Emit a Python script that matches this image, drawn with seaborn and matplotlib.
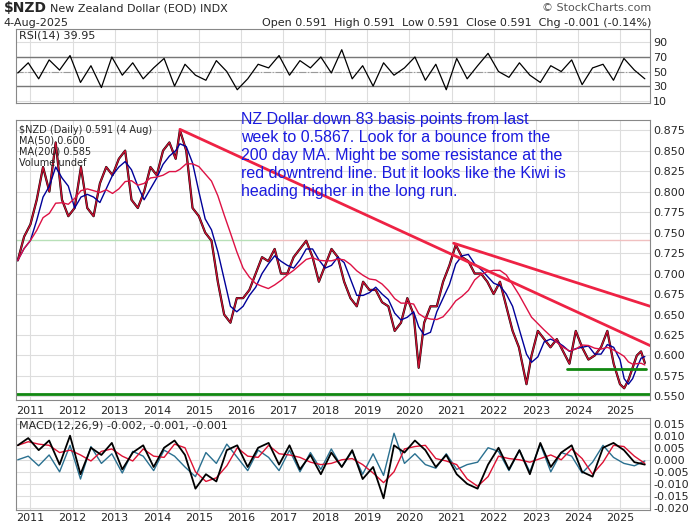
import matplotlib
matplotlib.use("Agg")
import matplotlib.pyplot as plt
import numpy as np
import pandas as pd
import seaborn as sns

# Price readings (approx)
price_t = [2010.70, 2010.85, 2011.00, 2011.15, 2011.30, 2011.45, 2011.60, 2011.75, 2011.90,
           2012.05, 2012.20, 2012.35, 2012.50, 2012.65, 2012.80, 2012.95, 2013.10, 2013.25,
           2013.40, 2013.55, 2013.70, 2013.85, 2014.00, 2014.15, 2014.30, 2014.45, 2014.55,
           2014.70, 2014.85, 2015.00, 2015.15, 2015.30, 2015.45, 2015.60, 2015.75, 2015.90,
           2016.05, 2016.20, 2016.35, 2016.50, 2016.65, 2016.80, 2016.95, 2017.10, 2017.25,
           2017.40, 2017.55, 2017.70, 2017.85, 2018.00, 2018.15, 2018.30, 2018.45, 2018.60,
           2018.75, 2018.90, 2019.05, 2019.20, 2019.35, 2019.50, 2019.65, 2019.80, 2019.95,
           2020.10, 2020.22, 2020.35, 2020.50, 2020.65, 2020.80, 2020.95, 2021.10, 2021.25,
           2021.40, 2021.55, 2021.70, 2021.85, 2022.00, 2022.15, 2022.30, 2022.45, 2022.60,
           2022.78, 2022.90, 2023.05, 2023.20, 2023.35, 2023.50, 2023.65, 2023.80, 2023.95,
           2024.10, 2024.25, 2024.40, 2024.55, 2024.70, 2024.85, 2025.00, 2025.10, 2025.20,
           2025.30, 2025.40, 2025.50, 2025.59]
price_v = [0.716, 0.745, 0.760, 0.790, 0.830, 0.800, 0.860, 0.790, 0.770,
           0.780, 0.830, 0.780, 0.770, 0.810, 0.830, 0.820, 0.840, 0.850,
           0.790, 0.780, 0.800, 0.830, 0.820, 0.850, 0.860, 0.840, 0.875,
           0.850, 0.780, 0.770, 0.750, 0.740, 0.690, 0.650, 0.640, 0.670,
           0.670, 0.680, 0.700, 0.720, 0.715, 0.730, 0.700, 0.700, 0.720,
           0.730, 0.740, 0.720, 0.690, 0.710, 0.730, 0.720, 0.690, 0.670,
           0.660, 0.690, 0.680, 0.680, 0.665, 0.660, 0.630, 0.640, 0.670,
           0.650, 0.585, 0.640, 0.660, 0.660, 0.690, 0.710, 0.735, 0.720,
           0.715, 0.700, 0.700, 0.690, 0.675, 0.690, 0.660, 0.630, 0.610,
           0.565, 0.600, 0.630, 0.620, 0.610, 0.620, 0.605, 0.590, 0.630,
           0.610, 0.595, 0.600, 0.610, 0.630, 0.590, 0.565, 0.560, 0.570,
           0.585, 0.600, 0.605, 0.591]

# RSI readings (roughly every 3 months)
rsi_v = [48, 62, 40, 66, 52, 72, 35, 58, 28, 70, 45, 62, 40, 55, 68, 30,
         60, 45, 38, 65, 50, 25, 40, 60, 55, 72, 45, 65, 55, 70, 48, 80,
         40, 58, 30, 62, 45, 55, 70, 38, 60, 25, 68, 40, 58, 75, 50, 42,
         62, 45, 35, 58, 50, 66, 32, 55, 60, 38, 68, 52, 40]

# MACD readings (roughly every 3 months)
macd_v = [0.006, 0.009, 0.004, 0.008, -0.002, 0.010, -0.006, 0.005, 0.002, 0.007,
          -0.004, 0.003, 0.006, -0.003, 0.005, 0.008, 0.002, -0.012, -0.006, -0.009,
          0.004, 0.006, -0.003, 0.005, 0.007, -0.002, 0.006, -0.004, 0.002, -0.006,
          0.003, -0.003, 0.004, -0.008, -0.003, -0.016, 0.006, 0.003, 0.008, 0.004,
          -0.003, 0.002, -0.006, -0.010, -0.012, -0.002, 0.005, -0.004, 0.004, -0.006,
          0.007, -0.003, 0.003, 0.006, -0.005, -0.007, 0.005, 0.007, 0.004, -0.001, -0.002]

# annotation lines
down1 = ([2014.55, 2025.72], [0.876, 0.612])
down2 = ([2021.05, 2025.72], [0.737, 0.660])
support1 = ([2023.75, 2025.62], [0.583, 0.583])
support2 = ([2010.6, 2025.72], [0.553, 0.553])

year_ticks = list(range(2011, 2026))
x0, x1 = 2010.66, 2025.72

df = pd.DataFrame({"t": price_t, "close": price_v})
df["ma50"] = df["close"].rolling(3, min_periods=1).mean()
df["ma200"] = df["close"].rolling(9, min_periods=1).mean()
osc_t = np.linspace(price_t[0], price_t[-1], len(rsi_v))
df_rsi = pd.DataFrame({"t": osc_t, "rsi": rsi_v})
df_macd = pd.DataFrame({"t": osc_t, "macd": macd_v})
df_macd["signal"] = df_macd["macd"].rolling(2, min_periods=1).mean()
df_macd["hist"] = df_macd["macd"] - df_macd["signal"]

sns.set_theme(style="white")
plt.rcParams["font.family"] = "DejaVu Sans"
fig = plt.figure(figsize=(7, 5.3), dpi=100)
ax_rsi = fig.add_axes([0.023, 0.806, 0.906, 0.140])
ax = fig.add_axes([0.023, 0.245, 0.906, 0.528])
ax_m = fig.add_axes([0.023, 0.038, 0.906, 0.174])

for a in (ax_rsi, ax, ax_m):
    a.set_xlim(x0, x1)
    a.set_xticks(year_ticks)
    a.grid(True, color="#dddddd", lw=0.8)
    a.yaxis.tick_right()
    a.tick_params(labelsize=8, length=0, pad=2)
    for s in a.spines.values():
        s.set_color("#888888")
        s.set_linewidth(0.8)

# RSI
ax_rsi.set_ylim(7, 109)
ax_rsi.set_yticks([10, 30, 50, 70, 90])
ax_rsi.axhline(70, color="#777777", lw=1)
ax_rsi.axhline(30, color="#777777", lw=1)
ax_rsi.axhline(50, color="#999999", lw=0.8, ls="-.")
sns.lineplot(data=df_rsi, x="t", y="rsi", ax=ax_rsi, color="black", lw=0.9)
ax_rsi.set_xticklabels([])
ax_rsi.set_xlabel(""); ax_rsi.set_ylabel("")
ax_rsi.text(0.005, 0.97, "RSI(14) 39.95", transform=ax_rsi.transAxes, fontsize=8, va="top")

# Price
ax.set_ylim(0.5455, 0.887)
ax.set_yticks(np.arange(0.55, 0.876, 0.025))
ax.yaxis.set_major_formatter(matplotlib.ticker.FormatStrFormatter("%.3f"))
ax.axhline(0.741, xmin=0, xmax=0.4, color="#b8e0b8", lw=1)
ax.axhline(0.741, xmin=0.4, xmax=1, color="#f0c0c0", lw=1)
sns.lineplot(data=df, x="t", y="close", ax=ax, color="black", lw=1.6)
sns.lineplot(data=df, x="t", y="close", ax=ax, color="#cc1133", lw=1.0)
sns.lineplot(data=df, x="t", y="ma50", ax=ax, color="#000099", lw=1.0)
sns.lineplot(data=df, x="t", y="ma200", ax=ax, color="#dd1144", lw=1.0)
ax.plot(*down1, color="#ee2244", lw=2)
ax.plot(*down2, color="#ee2244", lw=2)
ax.plot(*support1, color="#118811", lw=2)
ax.plot(*support2, color="#118811", lw=2)
ax.set_xlabel(""); ax.set_ylabel("")
ax.set_xticklabels([str(y) for y in year_ticks], fontsize=8)
ax.tick_params(axis="x", pad=4)
ax.text(0.005, 0.985, "$NZD (Daily) 0.591 (4 Aug)\nMA(50) 0.600\nMA(200) 0.585\nVolume undef",
        transform=ax.transAxes, fontsize=7, va="top", linespacing=1.15)
ax.text(0.355, 1.03,
        "NZ Dollar down 83 basis points from last\nweek to 0.5867. Look for a bounce from the\n"
        "200 day MA. Might be some resistance at the\nred downtrend line. But it looks like the Kiwi is\n"
        "heading higher in the long run.",
        transform=ax.transAxes, fontsize=11.5, color="#1a1adf", va="top",
        family="Liberation Sans", linespacing=1.25)

# MACD
ax_m.set_ylim(-0.0208, 0.0175)
ax_m.set_yticks([-0.02, -0.015, -0.01, -0.005, 0.0, 0.005, 0.01, 0.015])
ax_m.yaxis.set_major_formatter(matplotlib.ticker.FormatStrFormatter("%.3f"))
sns.lineplot(data=df_macd, x="t", y="hist", ax=ax_m, color="#2a7090", lw=1)
sns.lineplot(data=df_macd, x="t", y="signal", ax=ax_m, color="#dd1133", lw=1)
sns.lineplot(data=df_macd, x="t", y="macd", ax=ax_m, color="black", lw=1.3)
ax_m.set_xlabel(""); ax_m.set_ylabel("")
ax_m.set_xticklabels([str(y) for y in year_ticks], fontsize=8)
ax_m.text(0.005, 0.97, "MACD(12,26,9) -0.002, -0.001, -0.001",
          transform=ax_m.transAxes, fontsize=8, va="top")

# header
fig.text(0.005, 0.998, "$NZD", fontsize=10, fontweight="bold", va="top")
fig.text(0.072, 0.994, "New Zealand Dollar (EOD) INDX", fontsize=8, va="top")
fig.text(0.005, 0.966, "4-Aug-2025", fontsize=8, va="top")
fig.text(0.93, 0.994, "© StockCharts.com", fontsize=8, va="top", ha="right", color="#555555")
fig.text(0.93, 0.966, "Open 0.591  High 0.591  Low 0.591  Close 0.591  Chg -0.001 (-0.14%)",
         fontsize=8, va="top", ha="right")

fig.savefig("out.png", dpi=100)
plt.close(fig)
